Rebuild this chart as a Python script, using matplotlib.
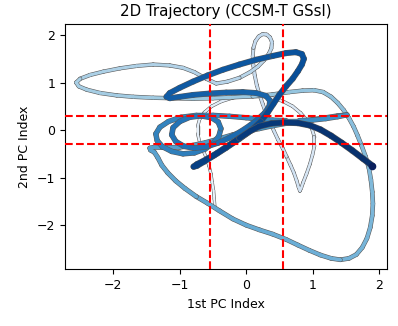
import numpy as np
import matplotlib
matplotlib.use("Agg")
import matplotlib.pyplot as plt
from matplotlib.collections import LineCollection

# trajectory in the plane of the first two principal components
pc1 = [
    -0.47, -0.48, -0.49, -0.51, -0.53, -0.56, -0.60, -0.65, -0.70, -0.73,
    -0.73, -0.70, -0.63, -0.52, -0.38, -0.20, 0.00, 0.20, 0.38, 0.55,
    0.70, 0.82, 0.92, 0.99, 1.03, 1.03, 1.00, 0.96, 0.91, 0.86,
    0.83, 0.81, 0.79, 0.76, 0.72, 0.67, 0.61, 0.55, 0.48, 0.42,
    0.36, 0.30, 0.25, 0.20, 0.16, 0.13, 0.11, 0.10, 0.11, 0.14,
    0.19, 0.25, 0.31, 0.36, 0.39, 0.38, 0.34, 0.27, 0.18, 0.06,
    -0.10, -0.28, -0.45, -0.60, -0.78, -0.95, -1.15, -1.40, -1.65, -1.90,
    -2.15, -2.35, -2.50, -2.56, -2.52, -2.40, -2.20, -1.95, -1.70, -1.40,
    -1.10, -0.80, -0.50, -0.20, 0.10, 0.40, 0.65, 0.85, 1.02, 1.16,
    1.28, 1.38, 1.47, 1.55, 1.62, 1.68, 1.74, 1.80, 1.85, 1.88,
    1.90, 1.91, 1.90, 1.87, 1.82, 1.75, 1.66, 1.55, 1.42, 1.28,
    1.12, 0.95, 0.78, 0.60, 0.40, 0.20, 0.00, -0.20, -0.40, -0.58,
    -0.75, -0.92, -1.06, -1.18, -1.27, -1.33, -1.38, -1.44, -1.45, -1.38,
    -1.20, -1.00, -0.80, -0.60, -0.40, -0.20, 0.00, 0.20, 0.40, 0.60,
    0.80, 1.00, 1.20, 1.38, 1.52, 1.38, 1.20, 1.00, 0.80, 0.60,
    0.40, 0.20, 0.00, -0.25, -0.50, -0.75, -0.98, -1.17, -1.30, -1.36,
    -1.34, -1.26, -1.12, -0.95, -0.78, -0.62, -0.50, -0.41, -0.38, -0.42,
    -0.52, -0.68, -0.85, -1.00, -1.10, -1.12, -1.06, -0.94, -0.78, -0.60,
    -0.42, -0.25, -0.08, 0.06, 0.18, 0.28, 0.35, 0.36, 0.30, 0.15,
    -0.05, -0.30, -0.55, -0.80, -1.00, -1.15, -1.20, -1.15, -1.00, -0.80,
    -0.58, -0.35, -0.10, 0.15, 0.40, 0.60, 0.75, 0.84, 0.87, 0.84,
    0.78, 0.70, 0.60, 0.50, 0.41, 0.32, 0.22, 0.08, -0.10, -0.30,
    -0.48, -0.63, -0.74, -0.79, -0.74, -0.60, -0.44, -0.27, -0.10, 0.06,
    0.20, 0.38, 0.58, 0.78, 0.96, 1.12, 1.28, 1.44, 1.60, 1.76,
    1.90,
]
pc2 = [
    -1.62, -1.45, -1.28, -1.10, -0.92, -0.75, -0.58, -0.42, -0.25, -0.08,
    0.08, 0.23, 0.37, 0.50, 0.60, 0.68, 0.72, 0.72, 0.68, 0.61,
    0.50, 0.36, 0.20, 0.03, -0.15, -0.33, -0.52, -0.72, -0.92, -1.10,
    -1.22, -1.28, -1.20, -1.06, -0.90, -0.74, -0.56, -0.38, -0.20, -0.02,
    0.16, 0.35, 0.55, 0.75, 0.95, 1.15, 1.35, 1.55, 1.73, 1.87,
    1.97, 2.02, 2.01, 1.95, 1.85, 1.72, 1.60, 1.47, 1.34, 1.22,
    1.10, 1.02, 0.98, 1.08, 1.22, 1.31, 1.36, 1.38, 1.35, 1.30,
    1.23, 1.16, 1.08, 1.00, 0.92, 0.85, 0.78, 0.73, 0.70, 0.68,
    0.67, 0.66, 0.67, 0.69, 0.71, 0.75, 0.80, 0.83, 0.84, 0.80,
    0.70, 0.57, 0.42, 0.25, 0.07, -0.12, -0.33, -0.56, -0.80, -1.05,
    -1.30, -1.55, -1.80, -2.05, -2.28, -2.47, -2.62, -2.70, -2.73, -2.70,
    -2.63, -2.53, -2.42, -2.30, -2.19, -2.10, -2.00, -1.87, -1.70, -1.54,
    -1.40, -1.23, -1.07, -0.90, -0.74, -0.58, -0.47, -0.42, -0.38, -0.36,
    -0.37, -0.36, -0.32, -0.26, -0.18, -0.10, -0.03, 0.03, 0.09, 0.14,
    0.18, 0.22, 0.26, 0.30, 0.32, 0.28, 0.24, 0.21, 0.20, 0.20,
    0.21, 0.23, 0.26, 0.29, 0.31, 0.31, 0.27, 0.18, 0.06, -0.08,
    -0.22, -0.35, -0.45, -0.50, -0.48, -0.40, -0.28, -0.13, 0.03, 0.17,
    0.26, 0.30, 0.27, 0.18, 0.05, -0.10, -0.24, -0.34, -0.38, -0.35,
    -0.27, -0.16, -0.03, 0.10, 0.23, 0.36, 0.50, 0.62, 0.72, 0.78,
    0.80, 0.79, 0.77, 0.74, 0.70, 0.67, 0.70, 0.78, 0.89, 1.02,
    1.15, 1.27, 1.38, 1.48, 1.56, 1.62, 1.64, 1.60, 1.50, 1.38,
    1.24, 1.08, 0.92, 0.74, 0.55, 0.36, 0.18, 0.00, -0.18, -0.37,
    -0.53, -0.66, -0.75, -0.77, -0.72, -0.62, -0.49, -0.33, -0.17, -0.02,
    0.08, 0.14, 0.16, 0.15, 0.10, 0.01, -0.12, -0.27, -0.43, -0.60,
    -0.75,
]

x_thr = [-0.55, 0.55]
y_thr = [-0.30, 0.30]

x = np.array(pc1)
y = np.array(pc2)
pts = np.column_stack([x, y]).reshape(-1, 1, 2)
segs = np.concatenate([pts[:-1], pts[1:]], axis=1)
t = np.linspace(0, 1, len(segs))
colors = plt.cm.Blues(0.06 + 0.94 * t)
widths = 1.5 + 2.4 * t

fig = plt.figure(figsize=(3.98, 3.26), dpi=100)
ax = fig.add_axes([0.163, 0.174, 0.809, 0.752])

# draw in chunks so later parts of the path overlay earlier ones with their outline
step = 12
for i in range(0, len(segs), step):
    sl = slice(i, i + step)
    edge = LineCollection(segs[sl], colors="0.35", linewidths=widths[sl] + 0.8,
                          capstyle="round", joinstyle="round")
    body = LineCollection(segs[sl], colors=colors[sl], linewidths=widths[sl],
                          capstyle="round", joinstyle="round")
    ax.add_collection(edge)
    ax.add_collection(body)
ax.scatter([x[-1]], [y[-1]], s=20, color="#0a1f5c", zorder=3)

for v in x_thr:
    ax.axvline(v, color="red", linestyle="--", lw=1.5, zorder=4)
for h in y_thr:
    ax.axhline(h, color="red", linestyle="--", lw=1.5, zorder=4)

ax.set_xlim(-2.73, 2.12)
ax.set_ylim(-2.93, 2.23)
ax.set_xticks([-2, -1, 0, 1, 2])
ax.set_yticks([-2, -1, 0, 1, 2])
ax.tick_params(labelsize=9)
ax.set_xlabel("1st PC Index", fontsize=9)
ax.set_ylabel("2nd PC Index", fontsize=9)
ax.set_title("2D Trajectory (CCSM-T GSsl)", fontsize=10.8)

fig.savefig("out.png", dpi=100)
